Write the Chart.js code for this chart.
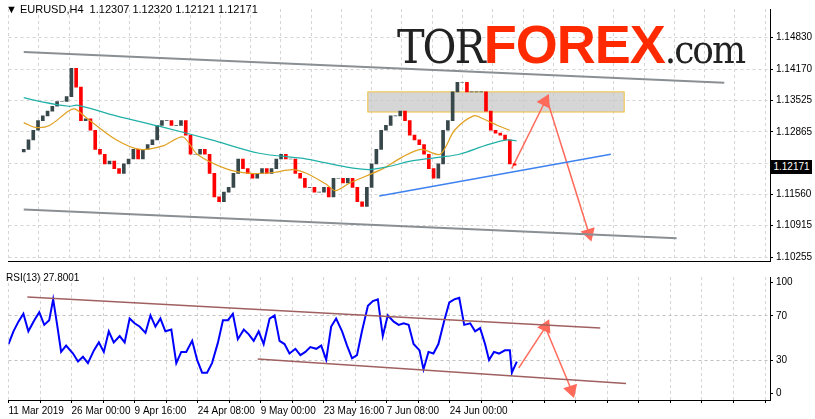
<!DOCTYPE html>
<html>
<head>
<meta charset="utf-8">
<script src="https://cdn.jsdelivr.net/npm/chart.js@4"></script>
<style>
  body { margin: 0; background: #fff; font-family: 'Liberation Sans', Arial, sans-serif; }
  #wrap { position: relative; width: 815px; height: 419px; }
  #main { position: absolute; left: 0; top: 0; width: 815px; height: 270px; }
  #rsi { position: absolute; left: 0; top: 268px; width: 815px; height: 151px; }
  .title { position: absolute; left: 6px; top: 3px; font-size: 11px; color: #000; }
  .logo { position: absolute; left: 397px; top: 14px; line-height: 60px; white-space: nowrap; }
  .logo .tor { font-family: 'DejaVu Serif Condensed', 'DejaVu Serif'; color: #222; letter-spacing: -2px; font-size: 46px; }
  .logo .fx { font-family: 'Liberation Sans'; font-weight: bold; color: #ff2a00; font-size: 54px; letter-spacing: -1px; }
  .logo .com { font-family: 'DejaVu Serif Condensed', 'DejaVu Serif'; color: #222; font-size: 40px; letter-spacing: -2px; }
  .pricebox { position: absolute; left: 771px; top: 160px; width: 41px; height: 14px; background: #000; color: #fff; font-size: 10px; line-height: 14px; text-align: center; }
  .rsititle { position: absolute; left: 6px; top: 272px; font-size: 10px; color: #000; }
</style>
</head>
<body>
<div id="wrap">
  <canvas id="main" width="815" height="270"></canvas>
  <canvas id="rsi" width="815" height="151"></canvas>
  <div class="title">▼ EURUSD,H4&nbsp; 1.12307 1.12320 1.12121 1.12171</div>
  <div class="logo"><span class="tor">TOR</span><span class="fx">FOREX</span><span class="com">.com</span></div>
  <div class="pricebox">1.12171</div>
  <div class="rsititle">RSI(13) 27.8001</div>
</div>
<script>
// closes every 5 px of the price pane
const closes = [1.1250,1.1270,1.1290,1.1310,1.1320,1.1330,1.1340,1.1350,1.1350,1.1360,1.1419,1.1380,1.1310,1.1314,1.1290,1.1250,1.1240,1.1220,1.1226,1.1210,1.1200,1.1220,1.1230,1.1250,1.1230,1.1250,1.1260,1.1270,1.1300,1.1310,1.1310,1.1300,1.1300,1.1310,1.1280,1.1240,1.1240,1.1250,1.1240,1.1200,1.1151,1.1141,1.1161,1.1171,1.1200,1.1230,1.1210,1.1200,1.1190,1.1200,1.1210,1.1200,1.1210,1.1230,1.1240,1.1230,1.1230,1.1200,1.1190,1.1171,1.1171,1.1161,1.1161,1.1171,1.1151,1.1190,1.1190,1.1180,1.1190,1.1171,1.1141,1.1131,1.1171,1.1220,1.1250,1.1290,1.1300,1.1320,1.1320,1.1330,1.1310,1.1280,1.1270,1.1260,1.1240,1.1210,1.1190,1.1220,1.1290,1.1310,1.1370,1.1390,1.1390,1.1370,1.1370,1.1370,1.1370,1.1330,1.1290,1.1284,1.1280,1.1270,1.1220,1.1217];

const slowMaX = [3,20,50,60,100,150,200,250,300,340,365,385,410,440,460,490,510,520];
const slowMa = [1.1358,1.1350,1.1340,1.1342,1.1320,1.1296,1.1270,1.1242,1.1230,1.1214,1.1208,1.1214,1.1226,1.1234,1.1240,1.1260,1.1270,1.1268];
const fastMaX = [3,15,30,50,57,70,100,125,150,170,185,215,240,265,285,300,320,330,345,380,400,420,440,455,475,485,500,513];
const fastMa = [1.1306,1.1296,1.1300,1.1330,1.1334,1.1314,1.1270,1.1250,1.1258,1.1276,1.1240,1.1210,1.1200,1.1202,1.1208,1.1200,1.1178,1.1164,1.1180,1.1210,1.1234,1.1250,1.1240,1.1290,1.1320,1.1314,1.1300,1.1290];

const priceTicks = [1.14830,1.14170,1.13525,1.12865,1.12205,1.11560,1.10915,1.10255];
const hiddenTick = 1.12205; // covered by the current price box

const rsiX = [3,8,13,18,23,29,34,39,44,48,52,56,61,68,73,78,83,89,94,99,104,109,115,120,125,130,135,141,146,151,156,161,167,172,177,182,188,193,198,203,208,214,219,224,229,234,240,245,250,255,260,266,271,276,281,286,292,297,302,307,313,318,323,328,333,339,344,349,354,359,365,370,375,380,385,391,396,401,406,411,417,421,426,431,436,442,447,452,457,462,468,473,478,483,487,492,497,503,508,510,515];
const rsiVal = [44.5,56,64.7,71.8,56,66,73.3,61.8,66,84.8,61.8,37.4,43.1,35.9,28.7,33,27.3,38.8,46,37.4,56,46,51.7,46,67.5,63.2,60.3,54.6,70.4,60.3,67.5,56,57.5,27.3,37.4,37.4,47.4,30.2,18.7,18.7,27.3,46,66,66,71.8,48.9,57.5,53.2,47.4,56,44.5,67.5,70.4,47.4,44.5,35.9,40.2,34.5,37.4,41.7,40.2,43.1,30.2,60.3,67.5,56,43.1,31.6,34.5,56,79,83.3,84.8,51.7,70.4,64.7,61.8,63.2,61.8,44.5,38.8,21.6,37.4,35.9,44.5,66,82,84.8,86.2,61.8,63.2,56,58.9,44.5,30.2,37.4,35.9,38.8,38.8,18.7,28.7];

const xLabels = ['11 Mar 2019','26 Mar 00:00','9 Apr 16:00','24 Apr 08:00','9 May 00:00','23 May 16:00','7 Jun 08:00','24 Jun 00:00'];

const UP = '#37474a', DOWN = '#ff0000';
const gridStep = 31.75;
const GRID = '#d4d4d4';

const candles = closes.map((c, i) => ({ x: 3 + i * 5, y: [i ? closes[i - 1] : c - 0.0005, c] }));
const candleColors = candles.map(b => b.y[1] >= b.y[0] ? UP : DOWN);

function pts(xs, ys) { return xs.map((x, i) => ({ x, y: ys[i] })); }
function line(data, color, width, extra) {
  return Object.assign({ type: 'line', data, borderColor: color, borderWidth: width, pointRadius: 0, tension: 0.3 }, extra || {});
}

const gridTicks = [];
for (let x = 3; x <= 770; x += gridStep) gridTicks.push({ value: x });

// highlighted resistance zone
const zonePlugin = {
  id: 'zone',
  beforeDatasetsDraw(chart) {
    const { ctx, scales: { x, y } } = chart;
    const x1 = x.getPixelForValue(364), x2 = x.getPixelForValue(633);
    const y1 = y.getPixelForValue(1.1370), y2 = y.getPixelForValue(1.1328);
    ctx.save();
    ctx.fillStyle = 'rgba(200,200,200,0.75)';
    ctx.fillRect(x1, y1, x2 - x1, y2 - y1);
    ctx.strokeStyle = '#f0c040';
    ctx.lineWidth = 1;
    ctx.strokeRect(x1, y1, x2 - x1, y2 - y1);
    ctx.restore();
  }
};

const arrowStyle = (rot) => ({ tension: 0, pointStyle: 'triangle', pointRadius: [0, 7], pointRotation: rot, pointBackgroundColor: '#ff6a5a', pointBorderColor: '#ff6a5a' });

new Chart(document.getElementById('main'), {
  type: 'bar',
  data: {
    datasets: [
      line([{ x: 3, y: 1.1453 }, { x: 738, y: 1.1389 }], '#8a8f93', 2, { tension: 0 }),
      line([{ x: 3, y: 1.1125 }, { x: 688, y: 1.1065 }], '#8a8f93', 2, { tension: 0 }),
      line([{ x: 376, y: 1.1153 }, { x: 619, y: 1.1240 }], '#3d82f0', 1.5, { tension: 0 }),
      line(pts(slowMaX, slowMa), '#20b0a8', 1.2),
      line(pts(fastMaX, fastMa), '#e0a020', 1.2),
      { type: 'bar', data: candles, backgroundColor: candleColors, barThickness: 3, grouped: false },
      line([{ x: 515, y: 1.1210 }, { x: 550, y: 1.1350 }], '#ff6a5a', 1.5, arrowStyle(27)),
      line([{ x: 553, y: 1.1348 }, { x: 596, y: 1.1075 }], '#ff6a5a', 1.5, arrowStyle(163))
    ]
  },
  plugins: [zonePlugin],
  options: {
    animation: false,
    responsive: false,
    devicePixelRatio: 1,
    layout: { padding: { left: 3, top: 3, bottom: 2, right: 0 } },
    plugins: { legend: { display: false }, tooltip: { enabled: false } },
    scales: {
      x: {
        type: 'linear', min: 3, max: 770,
        afterBuildTicks: s => { s.ticks = gridTicks; },
        afterFit: s => { s.height = 0; },
        ticks: { display: false },
        grid: { color: GRID, drawTicks: false },
        border: { display: true, color: '#000', dash: [3, 3] }
      },
      y: {
        position: 'right', min: 1.10175, max: 1.15427,
        afterBuildTicks: s => { s.ticks = priceTicks.map(v => ({ value: v })); },
        afterFit: s => { s.width = 45; },
        ticks: { color: '#000', font: { size: 10, family: 'Liberation Sans' }, padding: 3, callback: v => v === hiddenTick ? '' : v.toFixed(5) },
        grid: { color: GRID, tickLength: 3, tickColor: '#000' },
        border: { display: true, color: '#000', dash: [3, 3] }
      }
    }
  }
});

const rsiGrid = [];
for (let x = 3; x <= 770; x += gridStep) rsiGrid.push({ value: x });

new Chart(document.getElementById('rsi'), {
  type: 'line',
  data: {
    datasets: [
      line([{ x: 22, y: 87 }, { x: 599, y: 59 }], '#a06060', 1.5, { tension: 0 }),
      line([{ x: 254, y: 31 }, { x: 625, y: 9 }], '#a06060', 1.5, { tension: 0 }),
      line(pts(rsiX, rsiVal), '#0000ff', 2, { tension: 0 }),
      line([{ x: 517, y: 23 }, { x: 544, y: 60 }], '#ff6a5a', 1.5, arrowStyle(25)),
      line([{ x: 544, y: 59 }, { x: 570, y: 3 }], '#ff6a5a', 1.5, arrowStyle(162))
    ]
  },
  options: {
    animation: false,
    responsive: false,
    devicePixelRatio: 1,
    layout: { padding: { left: 3, top: 2, bottom: 0, right: 0 } },
    plugins: { legend: { display: false }, tooltip: { enabled: false } },
    scales: {
      x: {
        type: 'linear', min: 3, max: 770,
        afterBuildTicks: s => { s.ticks = rsiGrid; },
        ticks: {
          color: '#000', font: { size: 10, family: 'Liberation Sans' }, align: 'start', maxRotation: 0, autoSkip: false, padding: 2,
          callback: (v, i) => (i % 2 === 0 ? xLabels[i / 2] || '' : '')
        },
        grid: { color: GRID, tickLength: 3, tickColor: '#000' },
        border: { display: true, color: '#000', dash: [3, 3] }
      },
      y: {
        position: 'right', min: -6, max: 105,
        afterBuildTicks: s => { s.ticks = [0, 30, 70, 100].map(v => ({ value: v })); },
        afterFit: s => { s.width = 45; },
        ticks: { color: '#000', font: { size: 10, family: 'Liberation Sans' }, padding: 3 },
        grid: { color: c => (c.tick.value === 30 || c.tick.value === 70) ? '#c0c0c0' : 'rgba(0,0,0,0)', tickLength: 3, tickColor: '#000' },
        border: { display: true, color: '#000', dash: [3, 3] }
      }
    }
  }
});
</script>
</body>
</html>
